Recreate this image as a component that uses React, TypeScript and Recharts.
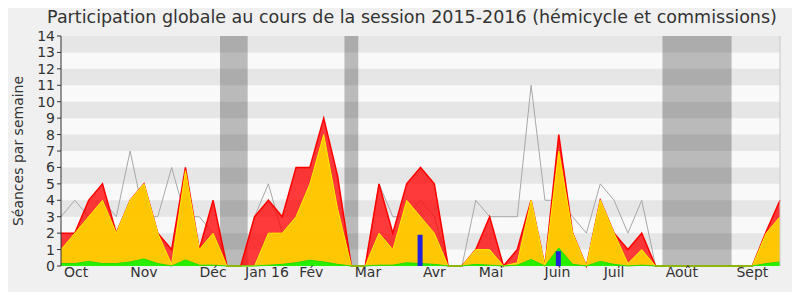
import {
  ComposedChart,
  Area,
  Line,
  Bar,
  XAxis,
  YAxis,
  ReferenceArea,
  ReferenceLine,
} from "recharts";

// semaines de la session (oct. 2015 -> sept. 2016)
const weeks = [
  0, 1, 2, 3, 4, 5, 6, 7, 8, 9, 10, 11, 12, 13, 14, 15, 16, 17, 18, 19, 20, 21, 22, 23, 24, 25, 26,
  27, 28, 29, 30, 31, 32, 33, 34, 35, 36, 37, 38, 39, 40, 41, 42, 43, 44, 45, 46, 47, 48, 49, 50,
  51, 52,
];

// présences (commissions + hémicycle)
const presences = [
  2, 2, 4, 5, 2, 4, 5, 2, 1, 6, 1, 4, 0, 0, 3, 4, 3, 6, 6, 9, 5.5, 0, 0, 5, 2, 5, 6, 5, 0, 0, 1, 3,
  0, 1, 4, 0, 8, 2, 0, 4, 2, 1, 2, 0, 0, 0, 0, 0, 0, 0, 0, 2.1, 4,
];
// présences en hémicycle
const hemicycle = [
  1, 2, 3, 4, 2, 4, 5, 2, 0.1, 5.8, 1, 2, 0, 0, 0, 2, 2, 3, 5, 8, 3.5, 0, 0, 2, 1, 4, 3, 2, 0, 0, 1,
  1, 0, 0.2, 4, 0, 7, 2, 0, 4, 2, 0.15, 1, 0, 0, 0, 0, 0, 0, 0, 0, 2, 3,
];
// interventions
const interventions = [
  0.15, 0.15, 0.28, 0.15, 0.15, 0.25, 0.43, 0.15, 0, 0.37, 0.05, 0.05, 0, 0, 0, 0.05, 0.1, 0.2,
  0.35, 0.25, 0.1, 0, 0, 0.05, 0.05, 0.2, 0.15, 0.1, 0, 0, 0.1, 0.05, 0, 0.05, 0.4, 0, 1.1, 0.1, 0,
  0.28, 0.1, 0, 0.05, 0, 0, 0, 0, 0, 0, 0, 0, 0.15, 0.25,
];
// médiane des députés
const mediane = [
  3, 4, 3, 4, 3, 7, 3, 3, 6, 3, 3, 2, 0, 0, 3, 5, 2, 2, 5, 3, 3, 0, 0, 5, 3, 3, 4, 3, 0, 0, 4, 3,
  3, 3, 11, 4, 4, 3, 2, 5, 4, 2, 4, 0, 0, 0, 0, 0, 0, 0, 0, 2, 4,
];
// questions orales
const questions = [
  null, null, null, null, null, null, null, null, null, null, null, null, null, null, null, null,
  null, null, null, null, null, null, null, null, null, null, 1.9, null, null, null, null, null,
  null, null, null, null, 0.9, null, null, null, null, null, null, null, null, null, null, null,
  null, null, null, null, null,
];

const monthTicks = [1.1, 6, 11, 14.9, 18.1, 22.2, 27, 31.1, 35.9, 40, 44.9, 50];
const monthLabels = ["Oct", "Nov", "Déc", "Jan 16", "Fév", "Mar", "Avr", "Mai", "Juin", "Juil", "Août", "Sept"];
const yTicks = [0, 1, 2, 3, 4, 5, 6, 7, 8, 9, 10, 11, 12, 13, 14];
const vacances = [
  [11.5, 13.5],
  [20.5, 21.5],
  [43.5, 48.5],
];

const data = weeks.map((w, i) => ({
  week: w,
  presences: presences[i],
  hemicycle: hemicycle[i],
  interventions: interventions[i],
  mediane: mediane[i],
  questions: questions[i],
}));

const tickStyle = { fill: "#333", fontSize: 14 };

export default function App() {
  return (
    <div
      style={{
        position: "relative",
        width: 800,
        height: 300,
        margin: -8,
        background: "#fff",
        fontFamily: "DejaVu Sans",
      }}
    >
      <div
        style={{
          position: "absolute",
          left: 5,
          top: 5,
          width: 790,
          height: 290,
          boxSizing: "border-box",
          border: "1px solid #dcdcdc",
          borderRadius: 6,
          background: "#f0f0f0",
        }}
      />
      <div
        style={{
          position: "absolute",
          left: 12,
          top: 7,
          width: 800,
          textAlign: "center",
          fontSize: 17.5,
          lineHeight: "20px",
          color: "#333",
          whiteSpace: "nowrap",
        }}
      >
        Participation globale au cours de la session 2015-2016 (hémicycle et commissions)
      </div>
      <div style={{ position: "absolute", left: 0, top: 0 }}>
        <ComposedChart
          width={800}
          height={300}
          data={data}
          margin={{ top: 36, right: 20, bottom: 0, left: 0 }}
        >
          <XAxis
            xAxisId="weeks"
            dataKey="week"
            type="number"
            domain={[0, 52]}
            ticks={weeks}
            interval={0}
            height={5}
            tickSize={4}
            tick={() => <g />}
            stroke="#333"
          />
          <XAxis
            xAxisId="months"
            dataKey="week"
            type="number"
            domain={[0, 52]}
            ticks={monthTicks}
            interval={0}
            height={29}
            tickSize={1}
            tickMargin={0}
            tickLine={false}
            axisLine={false}
            tick={tickStyle}
            tickFormatter={(v: number) => monthLabels[monthTicks.indexOf(v)]}
          />
          <XAxis
            xAxisId="top"
            dataKey="week"
            type="number"
            orientation="top"
            domain={[0, 52]}
            ticks={weeks}
            interval={0}
            height={0}
            tickSize={1}
            axisLine={false}
            tick={() => <g />}
            stroke="#333"
          />
          <YAxis
            domain={[0, 14]}
            ticks={yTicks}
            interval={0}
            width={61}
            tickSize={4}
            tickMargin={2}
            tick={tickStyle}
            stroke="#333"
            label={{
              value: "Séances par semaine",
              angle: -90,
              position: "insideLeft",
              offset: 18,
              style: { textAnchor: "middle", fill: "#333", fontSize: 14 },
            }}
          />
          <ReferenceArea xAxisId="weeks" y1={0} y2={14} fill="#f9f9f9" fillOpacity={1} stroke="none" />
          {yTicks
            .filter((t) => t % 2 === 1)
            .map((t) => (
              <ReferenceArea
                key={t}
                xAxisId="weeks"
                y1={t}
                y2={t + 1}
                fill="#e6e6e6"
                fillOpacity={1}
                stroke="none"
              />
            ))}
          {vacances.map(([a, b]) => (
            <ReferenceArea
              key={a}
              xAxisId="weeks"
              x1={a}
              x2={b}
              fill="#000"
              fillOpacity={0.25}
              stroke="none"
            />
          ))}
          <ReferenceLine xAxisId="weeks" x={52} stroke="#c8c8c8" />
          <Line
            xAxisId="weeks"
            type="linear"
            dataKey="mediane"
            stroke="#a8a8a8"
            strokeWidth={1}
            dot={false}
            zIndex={100}
            isAnimationActive={false}
          />
          <Area
            xAxisId="weeks"
            type="linear"
            dataKey="presences"
            stroke="#ff0000"
            strokeWidth={1.5}
            fill="#ff0000"
            fillOpacity={0.77}
            isAnimationActive={false}
          />
          <Area
            xAxisId="weeks"
            type="linear"
            dataKey="hemicycle"
            stroke="#ffee00"
            strokeWidth={1}
            fill="#ffd200"
            fillOpacity={0.93}
            isAnimationActive={false}
          />
          <Area
            xAxisId="weeks"
            type="linear"
            dataKey="interventions"
            stroke="#22dd00"
            strokeWidth={1}
            fill="#28ee00"
            fillOpacity={1}
            isAnimationActive={false}
          />
          <Bar
            xAxisId="weeks"
            dataKey="questions"
            barSize={5}
            fill="#2222dd"
            isAnimationActive={false}
          />
        </ComposedChart>
      </div>
    </div>
  );
}
